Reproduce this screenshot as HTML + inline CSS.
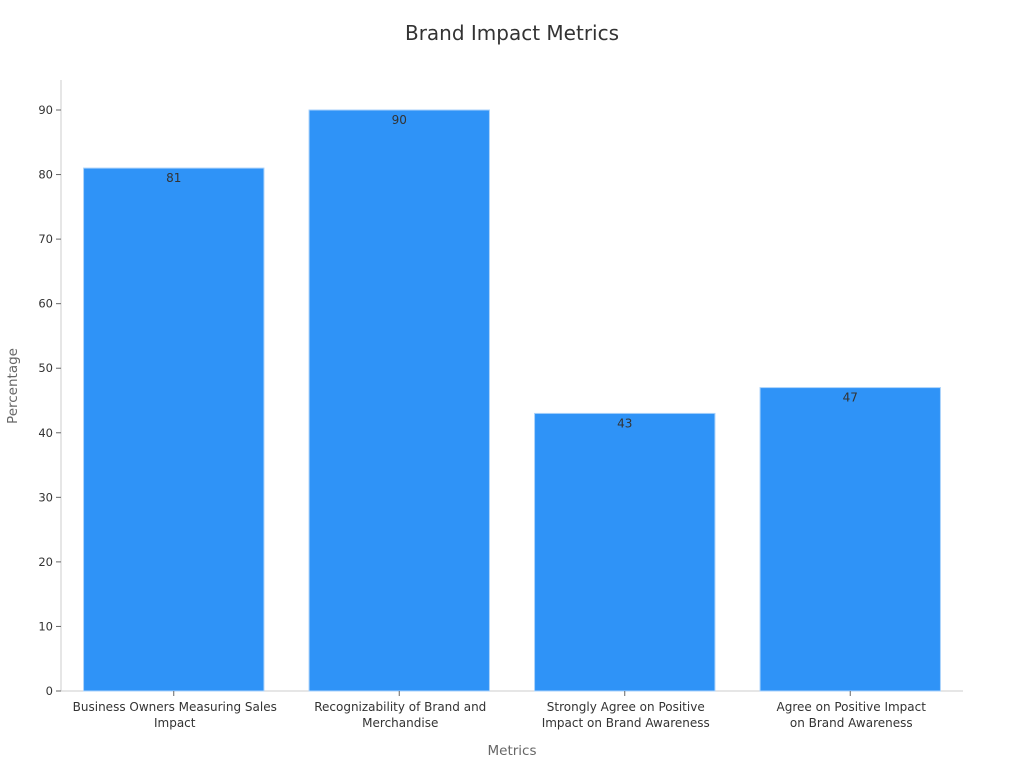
<!DOCTYPE html>
<html><head><meta charset="utf-8"><style>
body{margin:0;background:#fff;}
text{font-family:"DejaVu Sans","Liberation Sans",sans-serif;}
</style></head><body>
<svg id="chart" width="1024" height="768" xmlns="http://www.w3.org/2000/svg">
<text x="512" y="40" text-anchor="middle" font-size="20" fill="#333">Brand Impact Metrics</text>
<g id="plot"></g>
<text x="512" y="755" text-anchor="middle" font-size="13.5" fill="#666">Metrics</text>
<text transform="translate(17,386) rotate(-90)" text-anchor="middle" font-size="13.5" fill="#666">Percentage</text>
</svg>
<script>
const categories=[["Business Owners Measuring Sales","Impact"],["Recognizability of Brand and","Merchandise"],["Strongly Agree on Positive","Impact on Brand Awareness"],["Agree on Positive Impact","on Brand Awareness"]];
const values=[81,90,43,47];
const yTicks=[0,10,20,30,40,50,60,70,80,90];
const NS="http://www.w3.org/2000/svg";
const L=61,R=963,B=691,T=80;
const y=v=>B-v*(B-110)/90;
const band=(R-L)/categories.length;
const x=i=>L+band*i+band/2;
const g=document.getElementById('plot');
function mk(t,a){const e=document.createElementNS(NS,t);for(const k in a)e.setAttribute(k,a[k]);g.appendChild(e);return e;}
let e=mk('line',{x1:L,y1:T,x2:L,y2:B,stroke:'#ccc'});


e=mk('line',{x1:L,y1:B,x2:R,y2:B,stroke:'#ccc'});


yTicks.forEach(t=>{
 const k=mk('line',{x1:L-5,y1:y(t),x2:L,y2:y(t),stroke:'#666'});
 
 
 const l=mk('text',{x:L-8,y:y(t)+4,'text-anchor':'end','font-size':11.5,fill:'#333'});
 l.textContent=t;
 
 
});
values.forEach((v,i)=>{
 const w=band*0.8;
 const b=mk('rect',{x:x(i)-w/2,y:y(v),width:w,height:B-y(v),fill:'#2f93f7',stroke:'#a9d2fb','stroke-width':1});
 
 
 const vl=mk('text',{x:x(i),y:y(v)+14,'text-anchor':'middle','font-size':12,fill:'#333'});
 vl.textContent=v;
 
 
 const k=mk('line',{x1:x(i),y1:B,x2:x(i),y2:B+5,stroke:'#666'});
 
 
 categories[i].forEach((s,j)=>{
  const c=mk('text',{x:x(i)+1,y:711+j*16,'text-anchor':'middle','font-size':12,fill:'#333'});
  c.textContent=s;
  
  
 });
});
</script>
</body></html>
